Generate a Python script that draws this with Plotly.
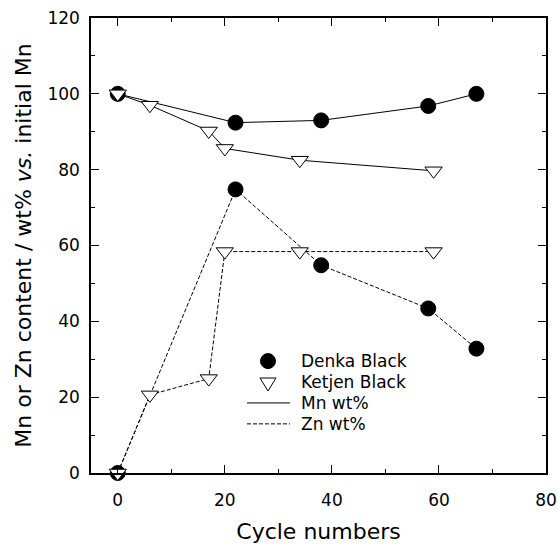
import plotly.graph_objects as go

# Cycle numbers and metal contents (wt% vs. initial Mn)
denka_cycles = [0, 22, 38, 58, 67]
denka_mn = [100, 92.4, 93.0, 96.8, 100]
denka_zn = [0, 74.8, 54.8, 43.4, 32.8]

ketjen_cycles = [0, 6, 17, 20, 34, 59]
ketjen_mn = [100, 97.0, 90.2, 85.6, 82.5, 79.7]
ketjen_zn = [0, 20.6, 24.9, 58.4, 58.4, 58.4]

x_ticks = [0, 20, 40, 60, 80]
y_ticks = [0, 20, 40, 60, 80, 100, 120]

legend_labels = ["Denka Black", "Ketjen Black", "Mn wt%", "Zn wt%"]

FONT = "'DejaVu Sans', sans-serif"
SOLID = dict(color="black", width=1)
DASHED = dict(color="black", width=1, dash="4px,2px")
CIRCLE = dict(symbol="circle", size=15, color="black", line=dict(color="black", width=1))
TRIANGLE = dict(symbol="triangle-down", size=15, color="white", line=dict(color="black", width=1))

fig = go.Figure()

# Denka Black drawn first so the Ketjen triangles sit on top at the shared points
series = [
    (denka_cycles, denka_mn, SOLID, CIRCLE),
    (denka_cycles, denka_zn, DASHED, CIRCLE),
    (ketjen_cycles, ketjen_mn, SOLID, TRIANGLE),
    (ketjen_cycles, ketjen_zn, DASHED, TRIANGLE),
]
for xs, ys, line, marker in series:
    fig.add_trace(go.Scatter(x=xs, y=ys, mode="lines+markers", line=line,
                             marker=marker, cliponaxis=False, showlegend=False))

# Hand-built key inside the plot area (paper coordinates of the plot domain)
W = H = 455.0                      # plot area size in px
key_x = 0.389                      # symbol centre
key_text_x = 0.459
key_rows = [0.246, 0.200, 0.154, 0.108]
rx, ry = 7.5 / W, 7.5 / H

shapes = [
    dict(type="circle", xref="paper", yref="paper",
         x0=key_x - rx, x1=key_x + rx, y0=key_rows[0] - ry, y1=key_rows[0] + ry,
         fillcolor="black", line=dict(color="black", width=1)),
    dict(type="path", xref="paper", yref="paper",
         path=(f"M {key_x - 8 / W} {key_rows[1] + 4 / H} "
               f"L {key_x + 8 / W} {key_rows[1] + 4 / H} "
               f"L {key_x} {key_rows[1] - 9 / H} Z"),
         fillcolor="white", line=dict(color="black", width=1)),
    dict(type="line", xref="paper", yref="paper",
         x0=key_x - 21 / W, x1=key_x + 22 / W, y0=key_rows[2], y1=key_rows[2],
         line=dict(color="black", width=1)),
    dict(type="line", xref="paper", yref="paper",
         x0=key_x - 21 / W, x1=key_x + 22 / W, y0=key_rows[3], y1=key_rows[3],
         line=dict(color="black", width=1, dash="4px,2px")),
]
annotations = [
    dict(text=label, xref="paper", yref="paper", x=key_text_x, y=row,
         xanchor="left", yanchor="middle", showarrow=False, borderpad=0,
         font=dict(family=FONT, size=17, color="black"))
    for label, row in zip(legend_labels, key_rows)
]

axis_common = dict(
    showline=True, linecolor="black", linewidth=1.5, mirror="ticks",
    ticks="inside", ticklen=8, tickwidth=1, tickcolor="black",
    showgrid=False, zeroline=False, automargin=False,
    tickfont=dict(family=FONT, size=17, color="black"),
)

fig.update_layout(
    width=558, height=544,
    margin=dict(l=91, r=12, t=18, b=71),
    paper_bgcolor="white", plot_bgcolor="white",
    font=dict(family=FONT, color="black"),
    showlegend=False,
    shapes=shapes,
    annotations=annotations,
    xaxis=dict(
        range=[-5, 80], tickvals=x_ticks, ticklabelstandoff=11,
        minor=dict(dtick=10, tick0=0, ticks="inside", ticklen=4, tickcolor="black"),
        title=dict(text="Cycle numbers", font=dict(family=FONT, size=22), standoff=22),
        **axis_common,
    ),
    yaxis=dict(
        range=[0, 120], tickvals=y_ticks, ticklabelstandoff=6,
        minor=dict(dtick=10, tick0=0, ticks="inside", ticklen=4, tickcolor="black"),
        title=dict(text="Mn or Zn content / wt% <i>vs.</i> initial Mn",
                   font=dict(family=FONT, size=22), standoff=10),
        **axis_common,
    ),
)

fig.write_html("out.html")
